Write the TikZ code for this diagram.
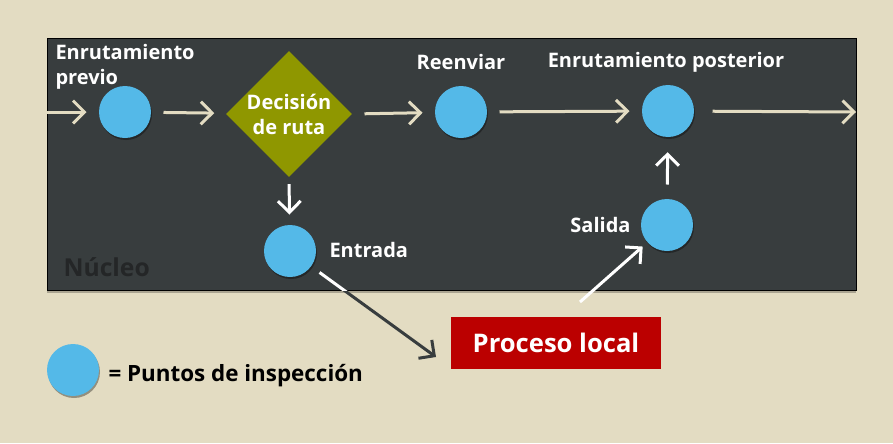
\documentclass[tikz,border=0pt]{standalone}
\usepackage{fontspec}
\setmainfont{Open Sans}
\usetikzlibrary{shapes.geometric,arrows.meta,shadows}

\definecolor{fondo}{RGB}{227,220,194}
\definecolor{nucleo}{RGB}{56,61,62}
\definecolor{punto}{RGB}{84,185,232}
\definecolor{oliva}{RGB}{143,151,0}
\definecolor{rojo}{RGB}{187,0,0}
\definecolor{oscuro}{RGB}{36,38,39}

\tikzset{every picture/.style={line width=0.75pt}}
\tikzset{
  caja/.style={rectangle, fill=nucleo, draw=black, line width=0.75pt, minimum width=606.75pt, minimum height=189pt, inner sep=0pt,
    drop shadow={shadow xshift=0pt, shadow yshift=-2.25pt, opacity=0.25, fill=black}},
  punto/.style={circle, fill=punto, minimum size=39pt, inner sep=0pt,
    drop shadow={shadow xshift=0.75pt, shadow yshift=-1.5pt, opacity=0.35, fill=black}},
  decision/.style={diamond, fill=oliva, minimum size=94.5pt, inner sep=0pt, align=center, text=white,
    font=\bfseries\fontsize{15}{18.75}\selectfont},
  proceso/.style={rectangle, fill=rojo, minimum width=157.5pt, minimum height=39pt, inner sep=0pt, text=white,
    font=\bfseries\fontsize{19.2}{22}\selectfont},
  etiqueta/.style={text=white, inner sep=0.75pt, font=\bfseries\fontsize{15}{18.75}\selectfont},
  flecha/.style={draw=fondo, line width=2.25pt, -{Straight Barb[length=8.5pt,width=17pt]}, shorten <=9pt, shorten >=9pt},
  flechab/.style={draw=white, line width=2.25pt, -{Straight Barb[length=8.5pt,width=17pt]}},
}

\begin{document}
\begin{tikzpicture}[x=0.75pt,y=0.75pt,yscale=-1,xscale=1]
%Background
\fill[fondo] (0,0) rectangle (893,443);
\useasboundingbox (0,0) rectangle (893,443);

%Shape: Rectangle [Nucleo]
\node[caja] (nucleo) at (451.5,164) {};
\draw (62,267) node [anchor=west, inner sep=0.75pt, text=oscuro, font=\bfseries\fontsize{18.5}{20}\selectfont] (lnucleo) {Núcleo};

%Shape: Circles (puntos de inspeccion)
\node[punto] (previo) at (125,112) {};
\node[decision] (ruta) at (289,114) {Decisión\\de ruta};
\node[punto] (reenviar) at (461,112) {};
\node[punto] (posterior) at (668,111) {};
\node[punto] (salida) at (667,225) {};
\node[punto] (entrada) at (290,251) {};

%Shape: Rectangle [Proceso local]
\node[proceso] (local) at (556,343) {Proceso local};

%Free ends
\coordinate (izq) at (47,112);
\coordinate (der) at (856,112);
\coordinate (llegada) at (436,357);
\coordinate (desde) at (580,302);

%Straight Lines
\draw[flecha, shorten <=0pt] (izq) -- (previo);
\draw[flecha] (previo) -- (ruta);
\draw[flecha] (ruta.east) -- (reenviar);
\draw[flecha] (reenviar) -- (posterior);
\draw[flecha, shorten >=0pt, shorten <=13.5pt] (posterior) -- (der);
\draw[flechab, shorten <=5pt, shorten >=7.5pt] (ruta.south) -- (entrada);
\draw[flechab, shorten <=10.5pt, shorten >=11pt] (salida) -- (posterior);
\draw[flechab, shorten >=4.5pt] (desde) -- (salida);
\draw[flechab, draw=nucleo, shorten <=7.5pt] (entrada) -- (llegada);
\begin{scope}
\clip (nucleo.north west) rectangle (nucleo.south east);
\draw[draw=white, line width=2.25pt, shorten <=7.5pt] (entrada) -- (llegada);
\end{scope}

% Text Node
\draw (54,43) node [anchor=north west, etiqueta, align=left] (lprevio) {Enrutamiento\\previo};
% Text Node
\draw (461,62) node [etiqueta] (lreenviar) {Reenviar};
% Text Node
\draw (666,62) node [etiqueta] (lposterior) {Enrutamiento posterior};
% Text Node
\draw (632,225) node [anchor=east, etiqueta] (lsalida) {Salida};
% Text Node
\draw (328,250) node [anchor=west, etiqueta] (lentrada) {Entrada};

%Legend
\node[punto] (leyenda) at (73,370) {};
\draw (107,376) node [anchor=west, inner sep=0.75pt, text=black, font=\bfseries\fontsize{16.8}{18}\selectfont] (lleyenda) {= Puntos de inspección};

\end{tikzpicture}
\end{document}
